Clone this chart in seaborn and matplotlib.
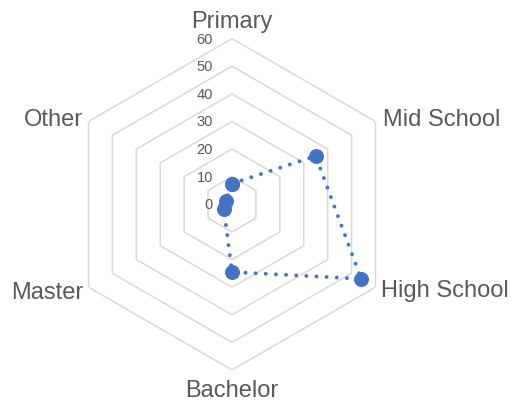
import numpy as np
import pandas as pd
import matplotlib
matplotlib.use("Agg")
import matplotlib.pyplot as plt
import matplotlib.transforms as mtransforms
import seaborn as sns

categories = ["Primary", "Mid School", "High School", "Bachelor", "Master", "Other"]
values = [7.5, 35, 54, 24.5, 3.4, 2.5]
ring_ticks = [0, 10, 20, 30, 40, 50, 60]

sns.set_style("white")
plt.rcParams['font.family'] = ['Liberation Sans', 'DejaVu Sans']

blue = "#4472C4"
grey_text = "#595959"
grid_col = "#D9D9D9"

n = len(categories)
angles = [i * 2 * np.pi / n for i in range(n)]

# close the loop by repeating the first point
df = pd.DataFrame({
    "angle": angles + [angles[0]],
    "value": values + [values[0]],
})

fig = plt.figure(figsize=(5.12, 4.02), dpi=100)
cx, cy, rad = 232, 205.3, 165.7
ax = fig.add_axes([(cx - rad) / 512, (402 - cy - rad) / 402,
                   2 * rad / 512, 2 * rad / 402], projection="polar")
ax.set_theta_zero_location("N")
ax.set_theta_direction(-1)
ax.set_ylim(0, 60)
ax.grid(False)
ax.set_xticks([])
ax.set_yticks([])
ax.spines["polar"].set_visible(False)
ax.patch.set_alpha(0)

# hexagon rings
for r in ring_ticks[1:]:
    ax.plot(angles + [angles[0]], [r] * (n + 1), color=grid_col, lw=1.1, zorder=1)

sns.lineplot(data=df, x="angle", y="value", sort=False, estimator=None, ax=ax,
             color=blue, lw=2.8, linestyle=(0, (0.01, 2.6)),
             dash_capstyle="round", marker="o", markersize=10,
             markeredgecolor=blue, zorder=3)
ax.set_xlabel("")
ax.set_ylabel("")

# ring value labels along the top spoke
lab_tr = mtransforms.offset_copy(ax.transData, fig=fig, x=-19, y=0, units="dots")
for r in ring_ticks:
    ax.text(0, r, str(r), transform=lab_tr, ha="right", va="center",
            fontsize=10.5, color=grey_text)

# category labels
placements = {
    "Primary": ("center", (0, 18)),
    "Mid School": ("left", (7, 2)),
    "High School": ("left", (5, -3)),
    "Bachelor": ("center", (0, -20)),
    "Master": ("right", (-5, -5)),
    "Other": ("right", (-5, 2)),
}
for ang, cat in zip(angles, categories):
    ha, (dx, dy) = placements[cat]
    tr = mtransforms.offset_copy(ax.transData, fig=fig, x=dx, y=dy, units="dots")
    ax.text(ang, 60, cat, transform=tr, ha=ha, va="center",
            fontsize=17, color=grey_text)

plt.savefig("out.png", dpi=100)
plt.close()
